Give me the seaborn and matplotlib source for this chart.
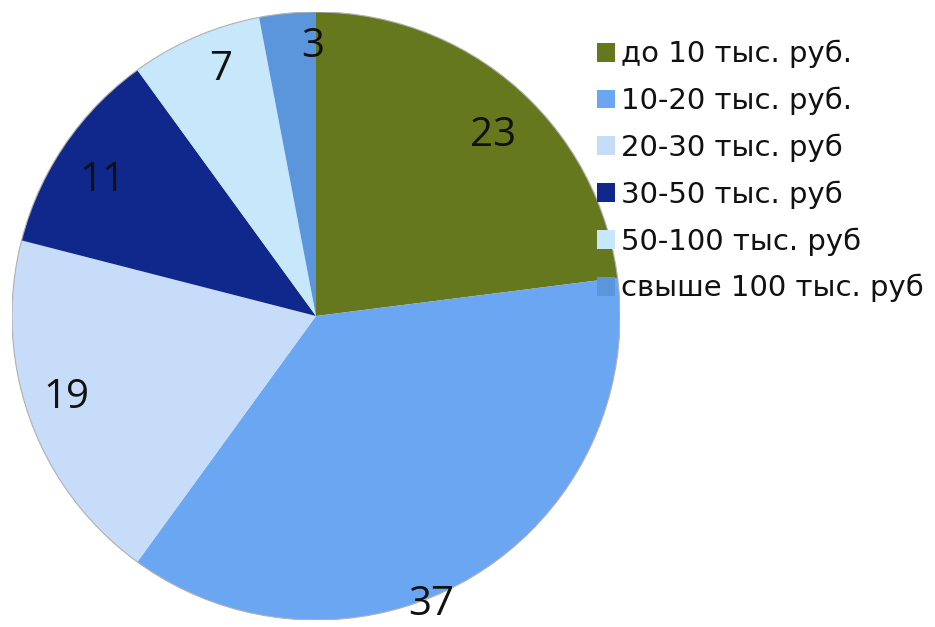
import numpy as np
import matplotlib
matplotlib.use("Agg")
import matplotlib.pyplot as plt
import seaborn as sns

# Income groups and their shares (%)
categories = ["до 10 тыс. руб.", "10-20 тыс. руб.", "20-30 тыс. руб",
              "30-50 тыс. руб", "50-100 тыс. руб", "свыше 100 тыс. руб"]
values = [23, 37, 19, 11, 7, 3]
colors = ["#66781e", "#6aa6f2", "#c6dcf8", "#10288c", "#c6e8fa", "#5b96dc"]

# Placement of each value label: radius (in pie radii) and angular shift (deg)
label_radius = [0.84, 1.01, 0.86, 0.84, 0.88, 0.90]
label_shift = [-2.5, -8.5, -2.5, 1.0, -2.5, -4.8]

sns.set_theme(style="white")
plt.rcParams["font.family"] = ["Open Sans", "DejaVu Sans"]

fig = plt.figure(figsize=(9.35, 6.27), dpi=100)
ax = fig.add_axes([316/935 - 304/935, (627-316-304)/627, 608/935, 608/627])

wedges, _ = ax.pie(values, colors=colors, startangle=90, counterclock=False,
                   radius=1.0, wedgeprops=dict(linewidth=0, antialiased=True))
ax.add_patch(plt.Circle((0, 0), 1.0, fill=False, ec="#b0b0b0", lw=0.8))
ax.set_xlim(-1, 1)
ax.set_ylim(-1, 1)
ax.set_aspect("equal")
ax.axis("off")

for w, v, r, s in zip(wedges, values, label_radius, label_shift):
    ang = np.deg2rad((w.theta1 + w.theta2) / 2 + s)
    ax.annotate(str(v), (r * np.cos(ang), r * np.sin(ang)),
                xytext=(0, -3), textcoords="offset points",
                ha="center", va="center", fontsize=29, color="#111111",
                annotation_clip=False)

handles = [plt.Rectangle((0, 0), 1, 1, fc=c, ec="none") for c in colors]
leg = fig.legend(handles, categories, loc="upper left",
                 bbox_to_anchor=(597/935, 1 - 40/627), frameon=False,
                 prop={"family": ["DejaVu Sans"], "size": 21},
                 handlelength=0.62, handleheight=0.62,
                 handletextpad=0.2, labelspacing=0.63, borderaxespad=0,
                 borderpad=0)
for t in leg.get_texts():
    t.set_color("#111111")

fig.savefig("out.png", dpi=100, facecolor="white")
